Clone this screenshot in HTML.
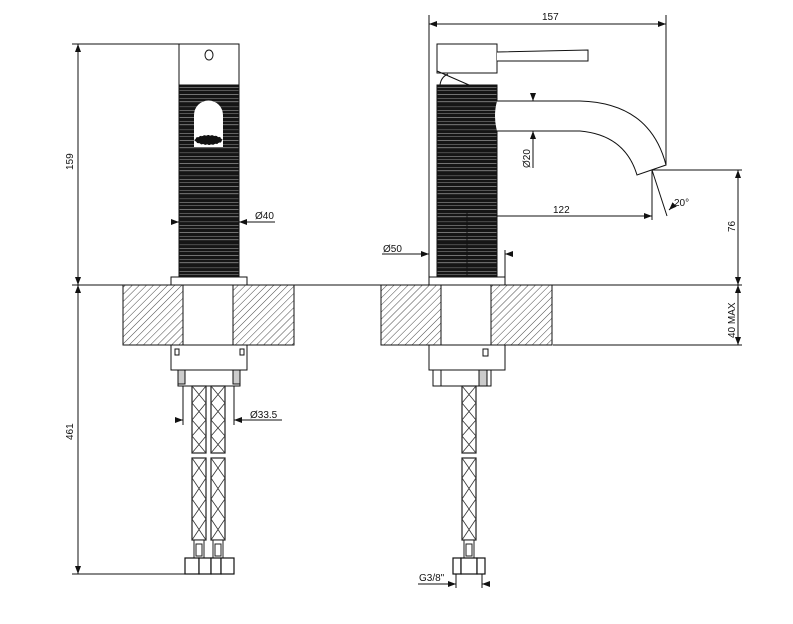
<!DOCTYPE html>
<html><head><meta charset="utf-8"><style>
html,body{margin:0;padding:0;background:#fff;width:793px;height:624px;overflow:hidden}
svg{display:block}
text{font-family:"Liberation Sans",Arial,sans-serif;font-size:10px;fill:#111}
</style></head><body>
<svg width="793" height="624" viewBox="0 0 793 624" xmlns="http://www.w3.org/2000/svg">
<defs>
<pattern id="hatch" width="5" height="5" patternUnits="userSpaceOnUse" patternTransform="rotate(45)">
<rect width="5" height="5" fill="#fff"/><line x1="0" y1="0" x2="0" y2="5" stroke="#333" stroke-width="0.9"/>
</pattern>
<pattern id="rib" width="60" height="23" patternUnits="userSpaceOnUse">
<rect width="60" height="23" fill="#151515"/>
<rect y="2" width="60" height="0.7" fill="#999"/>
<rect y="6" width="60" height="1" fill="#555"/>
<rect y="9.5" width="60" height="0.6" fill="#bbb"/>
<rect y="14" width="60" height="1.2" fill="#444"/>
<rect y="18" width="60" height="0.6" fill="#999"/>
<rect y="21" width="60" height="0.8" fill="#666"/>
</pattern>
<marker id="ar" markerWidth="8" markerHeight="6" refX="8" refY="3" orient="auto-start-reverse" markerUnits="userSpaceOnUse">
<path d="M0,0 L8,3 L0,6 z" fill="#111"/></marker>
<g id="hose">
<rect x="0" y="0" width="14" height="67" fill="#fff" stroke="#222" stroke-width="1.2"/>
<path d="M0,0 L14,17 L0,34 L14,50 L0,67 M14,0 L0,17 L14,34 L0,50 L14,67" fill="none" stroke="#333" stroke-width="0.8"/>
<rect x="0" y="72" width="14" height="82" fill="#fff" stroke="#222" stroke-width="1.2"/>
<path d="M0,72 L14,92 L0,113 L14,133 L0,154 M14,72 L0,92 L14,113 L0,133 L14,154" fill="none" stroke="#333" stroke-width="0.8"/>
<rect x="2" y="154" width="10" height="18" fill="#fff" stroke="#222"/>
<rect x="4" y="158" width="6" height="12" fill="#fff" stroke="#222"/>
</g>
</defs>
<g stroke="#111" stroke-width="1" fill="none">
<line x1="72" y1="285" x2="742" y2="285"/>

<!-- LEFT VIEW -->
<line x1="72" y1="44" x2="179" y2="44"/>
<line x1="72" y1="574" x2="188" y2="574"/>
<line x1="78" y1="44" x2="78" y2="285" marker-start="url(#ar)" marker-end="url(#ar)"/>
<line x1="78" y1="285" x2="78" y2="574" marker-start="url(#ar)" marker-end="url(#ar)"/>
<rect x="179" y="44" width="60" height="41" fill="#fff"/>
<ellipse cx="209" cy="55" rx="4" ry="5"/>
<rect x="179" y="85" width="60" height="192" fill="url(#rib)" stroke="#111"/>
<path d="M194,147 L194,115 A14.5,14.5 0 0 1 223,115 L223,147 Z" fill="#fff" stroke="none"/>
<ellipse cx="208.5" cy="140" rx="14" ry="5" fill="#111" stroke="#fff" stroke-dasharray="2 2"/>
<rect x="171" y="277" width="76" height="8" fill="#fff"/>
<rect x="123" y="285" width="60" height="60" fill="url(#hatch)"/>
<rect x="233" y="285" width="61" height="60" fill="url(#hatch)"/>
<rect x="171" y="345" width="76" height="25" fill="#fff"/>
<rect x="175" y="349" width="4" height="6"/><rect x="240" y="349" width="4" height="6"/>
<rect x="178" y="370" width="62" height="16" fill="#fff"/>
<rect x="178" y="370" width="7" height="14" fill="#ccc"/><rect x="233" y="370" width="7" height="14" fill="#ccc"/>
<line x1="183" y1="386" x2="183" y2="425"/><line x1="234" y1="386" x2="234" y2="425"/>
<line x1="177" y1="420" x2="183" y2="420" marker-end="url(#ar)"/>
<line x1="234" y1="420" x2="282" y2="420" marker-start="url(#ar)"/>
<line x1="171" y1="222" x2="179" y2="222" marker-end="url(#ar)"/>
<line x1="239" y1="222" x2="275" y2="222" marker-start="url(#ar)"/>
</g>
<use href="#hose" x="192" y="386"/>
<use href="#hose" x="211" y="386"/>
<g stroke="#111" fill="#fff" stroke-width="1.2">
<rect x="185" y="558" width="14" height="16"/><rect x="199" y="558" width="12" height="16"/><rect x="211" y="558" width="10" height="16"/><rect x="221" y="558" width="13" height="16"/>
</g>
<text x="255" y="219">Ø40</text>
<text x="250" y="418">Ø33.5</text>
<text transform="translate(73,170) rotate(-90)">159</text>
<text transform="translate(73,440) rotate(-90)">461</text>

<!-- RIGHT VIEW -->
<g stroke="#111" stroke-width="1" fill="none">
<line x1="429" y1="15" x2="429" y2="285"/>
<line x1="666" y1="15" x2="666" y2="165"/>
<line x1="429" y1="24" x2="666" y2="24" marker-start="url(#ar)" marker-end="url(#ar)"/>
<rect x="437" y="44" width="60" height="29" fill="#fff"/>
<path d="M497,52 L588,50 L588,61 L497,61" fill="#fff"/>
<path d="M437,71 L469,85"/>
<path d="M440,85 Q441,77 448,74"/>
<rect x="437" y="85" width="60" height="192" fill="url(#rib)" stroke="#111"/>
<path d="M497,101 L580,101 Q650,103 666,165 L637,175 Q625,135 580,131 L497,131" fill="#fff"/>
<path d="M497,101 Q493,116 497,131" fill="#fff" stroke="none"/>
<line x1="533" y1="93" x2="533" y2="101" marker-end="url(#ar)" />
<line x1="533" y1="131" x2="533" y2="168" marker-start="url(#ar)"/>
<line x1="497" y1="216" x2="652" y2="216" marker-end="url(#ar)"/>
<line x1="652" y1="170" x2="652" y2="220"/>
<line x1="652" y1="170" x2="667" y2="216"/>
<line x1="669" y1="210" x2="672" y2="207" marker-start="url(#ar)"/>
<line x1="652" y1="170" x2="742" y2="170"/>
<line x1="738" y1="170" x2="738" y2="285" marker-start="url(#ar)" marker-end="url(#ar)"/>
<line x1="738" y1="285" x2="738" y2="345" marker-start="url(#ar)" marker-end="url(#ar)"/>
<line x1="553" y1="345" x2="742" y2="345"/>
<line x1="467" y1="212" x2="467" y2="285"/>
<line x1="505" y1="250" x2="505" y2="285"/>
<line x1="382" y1="254" x2="429" y2="254" marker-end="url(#ar)"/>
<line x1="505" y1="254" x2="512" y2="254" marker-start="url(#ar)"/>
<rect x="429" y="277" width="76" height="8" fill="#fff"/>
<rect x="381" y="285" width="60" height="60" fill="url(#hatch)"/>
<rect x="491" y="285" width="61" height="60" fill="url(#hatch)"/>
<rect x="429" y="345" width="76" height="25" fill="#fff"/>
<rect x="483" y="349" width="5" height="7"/>
<rect x="441" y="370" width="50" height="16" fill="#fff"/>
<rect x="433" y="370" width="8" height="16" fill="#fff"/>
<rect x="479" y="370" width="8" height="16" fill="#ccc"/>
<line x1="456" y1="574" x2="456" y2="588"/><line x1="482" y1="574" x2="482" y2="588"/>
<line x1="418" y1="584" x2="456" y2="584" marker-end="url(#ar)"/>
<line x1="482" y1="584" x2="490" y2="584" marker-start="url(#ar)"/>
</g>
<use href="#hose" x="462" y="386"/>
<g stroke="#111" fill="#fff" stroke-width="1.2">
<rect x="453" y="558" width="8" height="16"/><rect x="461" y="558" width="16" height="16"/><rect x="477" y="558" width="8" height="16"/>
</g>
<text x="542" y="20">157</text>
<text x="553" y="213">122</text>
<text x="674" y="206">20°</text>
<text x="383" y="252">Ø50</text>
<text x="419" y="581">G3/8"</text>
<text transform="translate(530,168) rotate(-90)">Ø20</text>
<text transform="translate(735,232) rotate(-90)">76</text>
<text transform="translate(735,338) rotate(-90)">40 MAX</text>
</svg>
</body></html>
